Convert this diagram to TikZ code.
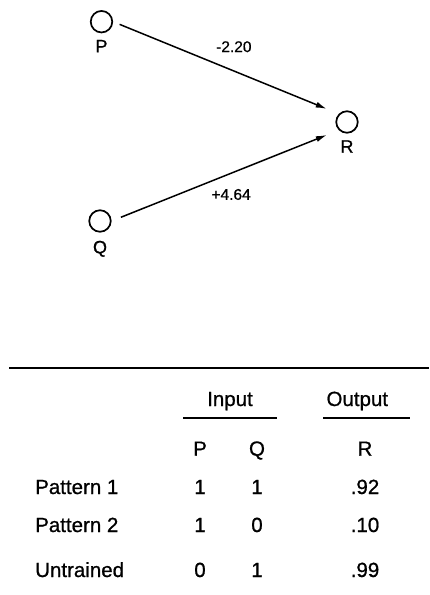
\documentclass[tikz,border=0pt]{standalone}
\usepackage{fontspec}
\setmainfont{Liberation Sans}
\newfontfamily\scanfont{Liberation Sans}[FakeBold=0.8]
\usetikzlibrary{arrows.meta,positioning}

\begin{document}
\begin{tikzpicture}[
  x=1pt, y=-1pt,
  unit/.style={draw, circle, line width=1.7pt, minimum size=21.5pt, inner sep=0pt},
  lbl/.style={inner sep=0pt, font=\scanfont\fontsize{18}{20}\selectfont},
  weight/.style={inner sep=0pt, font=\scanfont\fontsize{15.5}{18}\selectfont},
  arrow/.style={-{Latex[length=11pt, width=6pt]}, line width=1.5pt},
  cell/.style={anchor=base, inner sep=0pt, font=\scanfont\fontsize{20.5}{24}\selectfont},
  rowname/.style={cell, anchor=base west},
  rule/.style={line width=#1}
]
  \useasboundingbox (0,0) rectangle (429,595);

  % network
  \node[unit] (p) at (101.5,21.7) {};
  \node[unit] (q) at (100,221) {};
  \node[unit] (r) at (347,122) {};
  \node[lbl, below=6.5pt of p] (plbl) {P};
  \node[lbl, below=8pt of q] (qlbl) {Q};
  \node[lbl, below=6.5pt of r] (rlbl) {R};

  \draw[arrow, shorten <=7pt, shorten >=13pt] (p.east) -- (r.north west)
    node[weight, pos=0.535, above=18pt] (wpr) {-2.20};
  \draw[arrow, shorten <=10pt, shorten >=12.8pt] (q.east) -- (r.south west)
    node[weight, pos=0.526, below=15pt] (wqr) {+4.64};

  % table
  \draw[rule=1.6pt] (9,368) -- (429,368);
  \node[cell] (nin) at (230,406) {Input};
  \node[cell] (nout) at (357.3,406) {Output};
  \draw[rule=1.1pt] (183,418) -- (277,418);
  \draw[rule=1.1pt] (323,418) -- (410,418);

  \node[cell] (hp) at (200,455.7) {P};
  \node[cell] (hq) at (257,455.7) {Q};
  \node[cell] (hr) at (365,455.7) {R};

  \node[rowname] (row1) at (35,494) {Pattern 1};
  \node[cell] (p1) at (200,494) {1};
  \node[cell] (q1) at (257,494) {1};
  \node[cell] (r1) at (365,494) {.92};

  \node[rowname] (row2) at (35,532) {Pattern 2};
  \node[cell] (p2) at (200,532) {1};
  \node[cell] (q2) at (257,532) {0};
  \node[cell] (r2) at (365,532) {.10};

  \node[rowname] (row3) at (35,577) {Untrained};
  \node[cell] (p3) at (200,577) {0};
  \node[cell] (q3) at (257,577) {1};
  \node[cell] (r3) at (365,577) {.99};
\end{tikzpicture}
\end{document}
